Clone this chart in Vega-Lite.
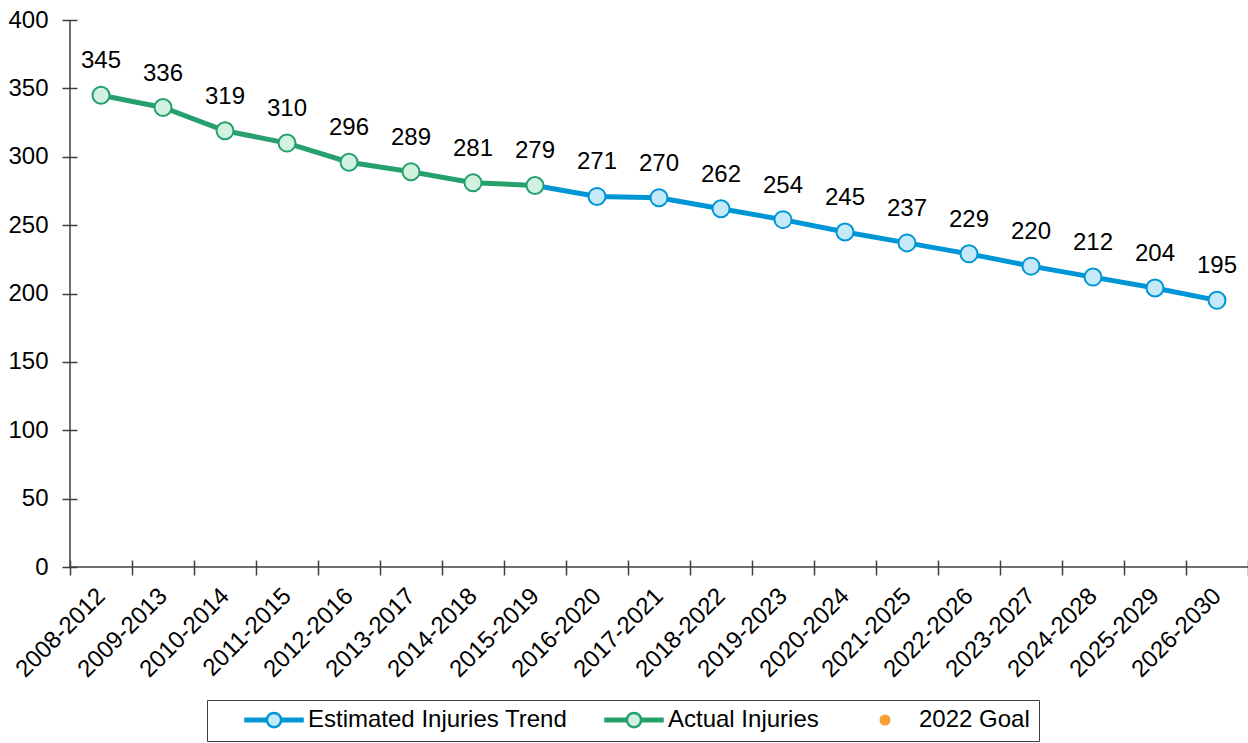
{
  "$schema": "https://vega.github.io/schema/vega-lite/v6.json",
  "width": 1178,
  "height": 547,
  "autosize": {"type": "none"},
  "padding": {"left": 70, "top": 20, "right": 0, "bottom": 176},
  "config": {"font": "Liberation Sans", "view": {"stroke": null}, "axis": {"grid": false}},
  "datasets": {
    "main": [
      {"period": "2008-2012", "series": "Actual Injuries", "value": 345},
      {"period": "2009-2013", "series": "Actual Injuries", "value": 336},
      {"period": "2010-2014", "series": "Actual Injuries", "value": 319},
      {"period": "2011-2015", "series": "Actual Injuries", "value": 310},
      {"period": "2012-2016", "series": "Actual Injuries", "value": 296},
      {"period": "2013-2017", "series": "Actual Injuries", "value": 289},
      {"period": "2014-2018", "series": "Actual Injuries", "value": 281},
      {"period": "2015-2019", "series": "Actual Injuries", "value": 279},
      {"period": "2015-2019", "series": "Estimated Injuries Trend", "value": 279},
      {"period": "2016-2020", "series": "Estimated Injuries Trend", "value": 271},
      {"period": "2017-2021", "series": "Estimated Injuries Trend", "value": 270},
      {"period": "2018-2022", "series": "Estimated Injuries Trend", "value": 262},
      {"period": "2019-2023", "series": "Estimated Injuries Trend", "value": 254},
      {"period": "2020-2024", "series": "Estimated Injuries Trend", "value": 245},
      {"period": "2021-2025", "series": "Estimated Injuries Trend", "value": 237},
      {"period": "2022-2026", "series": "Estimated Injuries Trend", "value": 229},
      {"period": "2023-2027", "series": "Estimated Injuries Trend", "value": 220},
      {"period": "2024-2028", "series": "Estimated Injuries Trend", "value": 212},
      {"period": "2025-2029", "series": "Estimated Injuries Trend", "value": 204},
      {"period": "2026-2030", "series": "Estimated Injuries Trend", "value": 195}
    ],
    "one": [{"a": 1}]
  },
  "layer": [
    {
      "data": {"name": "one"},
      "mark": {"type": "rule", "color": "#404040", "strokeWidth": 1.5},
      "encoding": {"y": {"datum": 0, "type": "quantitative", "scale": {"domain": [0, 400], "nice": false}}}
    },
    {
      "data": {"name": "one"},
      "mark": {"type": "rule", "color": "#404040", "strokeWidth": 1.5},
      "encoding": {
        "x": {"datum": "2008-2012", "type": "ordinal", "bandPosition": 0},
        "y": {"datum": 0, "type": "quantitative"},
        "y2": {"datum": 400}
      }
    },
    {
      "data": {"name": "main"},
      "mark": {"type": "line", "strokeWidth": 5},
      "encoding": {
        "x": {
          "field": "period", "type": "ordinal", "sort": null,
          "scale": {"type": "band", "paddingInner": 0, "paddingOuter": 0},
          "axis": {
            "title": null, "tickBand": "extent", "offset": -7, "tickSize": 15, "domain": false,
            "labelAngle": -45, "labelAlign": "right", "labelBaseline": "middle", "labelFontSize": 24,
            "labelPadding": 17, "labelColor": "#000000", "tickColor": "#404040", "tickWidth": 1.5,
            "labelOverlap": false, "labelLimit": 300
          }
        },
        "y": {
          "field": "value", "type": "quantitative",
          "scale": {"domain": [0, 400], "nice": false},
          "axis": {
            "title": null, "values": [0, 50, 100, 150, 200, 250, 300, 350, 400], "offset": -7,
            "tickSize": 15, "domain": false, "labelFontSize": 24, "labelColor": "#000000",
            "tickColor": "#404040", "tickWidth": 1.5, "labelPadding": 14
          }
        },
        "stroke": {
          "field": "series", "type": "nominal",
          "scale": {"domain": ["Estimated Injuries Trend", "Actual Injuries", "2022 Goal"], "range": ["#0096d6", "#26a06e", "#f7a035"]}
        }
      }
    },
    {
      "data": {"name": "main"},
      "transform": [{"filter": "!(datum.series === 'Estimated Injuries Trend' && datum.period === '2015-2019')"}],
      "mark": {"type": "point", "filled": true, "size": 289, "strokeWidth": 2, "opacity": 1},
      "encoding": {
        "x": {"field": "period", "type": "ordinal", "sort": null},
        "y": {"field": "value", "type": "quantitative"},
        "stroke": {"field": "series", "type": "nominal"},
        "fill": {
          "field": "series", "type": "nominal",
          "scale": {"domain": ["Estimated Injuries Trend", "Actual Injuries", "2022 Goal"], "range": ["#c6e9fa", "#d2f2e0", "#f7a035"]}
        }
      }
    },
    {
      "data": {"name": "main"},
      "transform": [{"filter": "!(datum.series === 'Estimated Injuries Trend' && datum.period === '2015-2019')"}],
      "mark": {"type": "text", "dy": -27, "fontSize": 24, "baseline": "alphabetic", "align": "center", "color": "#000000"},
      "encoding": {
        "x": {"field": "period", "type": "ordinal", "sort": null},
        "y": {"field": "value", "type": "quantitative"},
        "text": {"field": "value", "type": "quantitative"}
      }
    },
    {
      "data": {"name": "main"},
      "transform": [{"filter": "false"}],
      "mark": {"type": "point", "filled": true, "strokeWidth": 2},
      "encoding": {
        "x": {"field": "period", "type": "ordinal", "sort": null},
        "y": {"field": "value", "type": "quantitative"},
        "shape": {
          "field": "series", "type": "nominal",
          "scale": {
            "domain": ["Estimated Injuries Trend", "Actual Injuries", "2022 Goal"],
            "range": [
              "M-1,-0.045H-0.25V0.045H-1Z M0.25,-0.045H1V0.045H0.25Z M0.25,0A0.25,0.25,0,1,1,-0.25,0A0.25,0.25,0,1,1,0.25,0Z",
              "M-1,-0.045H-0.25V0.045H-1Z M0.25,-0.045H1V0.045H0.25Z M0.25,0A0.25,0.25,0,1,1,-0.25,0A0.25,0.25,0,1,1,0.25,0Z",
              "M0.15,0A0.15,0.15,0,1,1,-0.15,0A0.15,0.15,0,1,1,0.15,0Z"
            ]
          },
          "legend": {
            "orient": "none", "legendX": 137, "legendY": 680, "direction": "horizontal",
            "title": " ", "titleOrient": "left", "titlePadding": 28, "titleFontSize": 10,
            "symbolSize": 3249, "symbolStrokeWidth": 2.5, "clipHeight": 22,
            "labelFontSize": 24, "labelColor": "#000000", "labelOffset": 4, "labelLimit": 400,
            "columnPadding": 36, "padding": 9, "strokeColor": "#404040", "symbolOpacity": 1
          }
        },
        "stroke": {"field": "series", "type": "nominal"},
        "fill": {"field": "series", "type": "nominal"}
      }
    }
  ]
}
